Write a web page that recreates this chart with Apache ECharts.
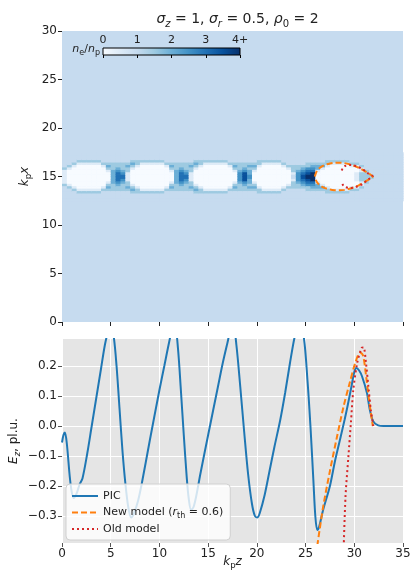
<!DOCTYPE html>
<html>
<head>
<meta charset="utf-8">
<script src="https://cdn.jsdelivr.net/npm/echarts@6/dist/echarts.min.js"></script>
<style>
html, body { margin: 0; padding: 0; background: #fff; }
#chart { width: 413px; height: 575px; }
</style>
</head>
<body>
<div id="chart"></div>
<script>
// n_e/n_p map: one string per k_p z column (0.5 wide, z = 0..35),
// each char is a |k_p x - 15| bin of 0.25 from the axis outward, value = digit / 2
var densityCols = [
	'1113222222', '0001322222', '0000132222', '0000013222', '0000013222',
	'0000013222', '0000013222', '0000013222', '0000132222', '0013432222',
	'4443332222', '6654332222', '6543332222', '1133432222', '0001343222',
	'0000133222', '0000013222', '0000013222', '0000013222', '0000013222',
	'0000013222', '0000132222', '0013432222', '4443332222', '6654332222',
	'6543332222', '1133432222', '0001343222', '0000133222', '0000013222',
	'0000013222', '0000013222', '0000013222', '0000013222', '0000132222',
	'0013432222', '5543332222', '7754332222', '5443432222', '0013432222',
	'0000133222', '0000013222', '0000013222', '0000013222', '0000013222',
	'0000132222', '0001322222', '2133322222', '5543322222', '7654322222',
	'8765332222', '8865432222', '0014432222', '0001432222', '0000133222',
	'0000013222', '0000013222', '0000013222', '0000013222', '0000132222',
	'1100132222', '3311322222', '3332222222', '3222222222', '2222222222',
	'2222222222', '2222222222', '2222222222', '2222222222', '2222222222'
];
var zStep = 0.5, xStep = 0.25, axisX = 15;

var picZ = [0.0, 0.15, 0.3, 0.5, 0.8, 1.0, 1.2, 1.5, 1.8, 2.1,
	2.6, 3.0, 3.5, 4.0, 4.4, 4.7, 5.0, 5.3,
	5.6, 5.9, 6.2, 6.5, 6.8, 7.1, 7.4, 7.8, 8.2,
	9.0, 10.0, 10.5, 11.0, 11.3, 11.6, 11.9,
	12.2, 12.5, 12.8, 13.0, 13.25, 13.5, 13.8, 14.2,
	15.0, 16.0, 16.5, 17.0, 17.3, 17.6, 17.9,
	18.3, 18.7, 19.1, 19.5, 19.8, 20.05,
	20.3, 20.8, 21.3, 21.8, 22.4, 22.9, 23.4, 23.9, 24.3, 24.8,
	25.2, 25.5, 25.8, 26.0, 26.2, 26.4, 26.8, 27.5, 28.0, 28.5,
	29.0, 29.3, 29.7, 30.0, 30.2, 30.5, 30.8, 31.3, 31.6, 31.95,
	32.45, 33.0, 35.0];
var picEz = [-0.055, -0.03, -0.022, -0.06, -0.17, -0.22, -0.24, -0.225, -0.195, -0.175,
	-0.09, -0.01, 0.09, 0.19, 0.27, 0.31, 0.33, 0.3,
	0.2, 0.06, -0.08, -0.19, -0.27, -0.305, -0.29, -0.25, -0.19,
	-0.05, 0.12, 0.2, 0.28, 0.32, 0.33, 0.26,
	0.12, -0.03, -0.17, -0.24, -0.28, -0.27, -0.23, -0.16,
	-0.03, 0.13, 0.21, 0.28, 0.32, 0.33, 0.27,
	0.13, -0.02, -0.16, -0.26, -0.3, -0.305,
	-0.29, -0.23, -0.15, -0.07, 0.02, 0.11, 0.21, 0.3, 0.34, 0.3,
	0.15, 0.0, -0.18, -0.3, -0.347, -0.335, -0.28, -0.2, -0.12, -0.05,
	0.02, 0.065, 0.13, 0.18, 0.193, 0.185, 0.165, 0.11, 0.053, 0.015,
	0.002, 0, 0];

var newZ = [26.2, 26.8, 27.5, 28.2, 28.9, 29.5, 30.1, 30.6, 30.9, 31.2, 31.5, 31.9];
var newEz = [-0.4, -0.27, -0.15, -0.04, 0.065, 0.14, 0.21, 0.245, 0.235, 0.17, 0.09, 0.0];
var oldZ = [28.9, 29.1, 29.4, 29.65, 29.9, 30.3, 30.75, 30.95, 31.2, 31.45, 31.7, 31.95];
var oldEz = [-0.42, -0.235, -0.1, 0.01, 0.12, 0.21, 0.26, 0.262, 0.21, 0.13, 0.053, 0.0];

// bubble boundaries in the density map (radius from the axis)
var newBubbleZ = [25.95, 26.1, 26.3, 26.6, 27.0, 27.5, 28.0, 28.5, 29.0, 29.5, 30.0, 30.5, 31.0, 31.5, 31.9];
var newBubbleR = [0, 0.45, 0.75, 1.0, 1.2, 1.35, 1.42, 1.43, 1.38, 1.27, 1.1, 0.88, 0.6, 0.3, 0];
var oldBubbleZ = [28.7, 28.85, 29.05, 29.5, 29.9, 30.35, 30.8, 31.1, 31.45, 31.9];
var oldBubbleR = [0.62, 0.9, 1.08, 1.18, 1.15, 1.0, 0.8, 0.57, 0.3, 0];

var eTicks = [-0.3, -0.2, -0.1, 0.0, 0.1, 0.2];
var cbarTicks = [0, 1, 2, 3, 4];
var blues = ['#f7fbff', '#deebf7', '#c6dbef', '#9ecae1', '#6baed6', '#4292c6', '#2171b5', '#08519c', '#08306b'];

var font = 'DejaVu Sans';
var ink = '#222';

function zip(xs, ys) {
	return xs.map(function (x, i) { return [x, ys[i]]; });
}

function bubble(zs, rs) {
	var upper = zs.map(function (z, i) { return [z, axisX + rs[i]]; });
	var lower = zs.map(function (z, i) { return [z, axisX - rs[i]]; }).reverse();
	if (rs[rs.length - 1] === 0) lower.shift();
	return upper.concat(lower);
}

var cells = [];
densityCols.forEach(function (col, j) {
	var z = zStep * j + zStep / 2;
	for (var k = 0; k < col.length; k++) {
		var v = Number(col[k]) / 2;
		var dx = xStep * k + xStep / 2;
		cells.push([z, axisX + dx, v]);
		cells.push([z, axisX - dx, v]);
	}
});

function mathRich(size, subSize, lh) {
	return {
		i: { fontFamily: font, fontStyle: 'italic', fontWeight: 'normal', fontSize: size, lineHeight: lh },
		si: { fontFamily: font, fontStyle: 'italic', fontWeight: 'normal', fontSize: subSize, lineHeight: lh * 0.6, verticalAlign: 'bottom' },
		s: { fontFamily: font, fontWeight: 'normal', fontSize: subSize, lineHeight: lh * 0.6, verticalAlign: 'bottom' },
		t: { fontFamily: font, fontWeight: 'normal', fontSize: size, lineHeight: lh }
	};
}

var chart = echarts.init(document.getElementById('chart'));

var option = {
	animation: false,
	title: {
		text: '{i|σ}{si|z}{t| = 1, }{i|σ}{si|r}{t| = 0.5, }{i|ρ}{s|0}{t| = 2}',
		left: 232.5,
		top: 4,
		textAlign: 'center',
		textStyle: { color: ink, fontWeight: 'normal', rich: mathRich(14, 10, 20) }
	},
	graphic: [{
		type: 'text',
		right: 413 - 100,
		top: 44,
		style: {
			text: '{i|n}{s|e}{t|/}{i|n}{s|p}',
			fill: ink,
			rich: mathRich(11, 8, 14)
		}
	}],
	grid: [
		{ left: 62, width: 341, top: 31, height: 291, show: true, backgroundColor: blues[2], borderWidth: 0, outerBoundsMode: 'none' },
		{ left: 62, width: 341, top: 339, height: 204, show: true, backgroundColor: '#e5e5e5', borderWidth: 0, outerBoundsMode: 'none' },
		{ left: 103, width: 137, top: 48, height: 7, outerBoundsMode: 'none' }
	],
	xAxis: [
		{
			gridIndex: 0, type: 'value', min: 0, max: 35, interval: 5,
			axisLine: { show: false, onZero: false },
			axisTick: { show: true, length: 4, lineStyle: { color: ink } },
			axisLabel: { show: false },
			splitLine: { show: false }
		},
		{
			gridIndex: 1, type: 'value', min: 0, max: 35, interval: 5,
			axisLine: { show: false, onZero: false },
			axisTick: { show: true, length: 4, lineStyle: { color: '#555' } },
			axisLabel: { fontFamily: font, fontSize: 12, color: ink, margin: 5 },
			splitLine: { show: true, lineStyle: { color: '#fff', width: 1 } },
			name: '{i|k}{s|p}{i|z}',
			nameLocation: 'middle',
			nameGap: 11,
			nameMoveOverlap: false,
			nameTextStyle: { color: ink, rich: mathRich(12, 8.5, 16) }
		},
		{
			gridIndex: 2, type: 'value', min: 0, max: 4, interval: 1, position: 'top',
			axisLine: { show: false },
			axisTick: { show: true, inside: true, length: 3, lineStyle: { color: '#000' } },
			axisLabel: {
				fontFamily: font, fontSize: 11, color: ink, margin: 2,
				formatter: function (v) { return v === cbarTicks[cbarTicks.length - 1] ? v + '+' : String(v); }
			},
			splitLine: { show: false }
		}
	],
	yAxis: [
		{
			gridIndex: 0, type: 'value', min: 0, max: 30, interval: 5,
			axisLine: { show: false, onZero: false },
			axisTick: { show: true, length: 4, lineStyle: { color: ink } },
			axisLabel: { fontFamily: font, fontSize: 12, color: ink, margin: 5 },
			splitLine: { show: false },
			name: '{i|k}{s|p}{i|x}',
			nameLocation: 'middle',
			nameRotate: 90,
			nameGap: 29,
			nameMoveOverlap: false,
			nameTextStyle: { color: ink, rich: mathRich(12, 8.5, 16) }
		},
		{
			gridIndex: 1, type: 'value', min: -0.39, max: 0.29,
			axisLine: { show: false, onZero: false },
			axisTick: { show: true, length: 4, lineStyle: { color: '#555' }, customValues: eTicks },
			axisLabel: {
				fontFamily: font, fontSize: 12, color: ink, margin: 5, customValues: eTicks,
				formatter: function (v) { return (v < 0 ? '\u2212' : '') + Math.abs(v).toFixed(1); }
			},
			splitLine: { show: true, lineStyle: { color: '#fff', width: 1 } },
			name: '{i|E}{si|z}{t|, pl.u.}',
			nameLocation: 'middle',
			nameRotate: 90,
			nameGap: 40,
			nameMoveOverlap: false,
			nameTextStyle: { color: ink, rich: mathRich(12, 8.5, 16) }
		},
		{ gridIndex: 2, type: 'value', min: 0, max: 1, show: false }
	],
	visualMap: {
		type: 'continuous', show: false, seriesIndex: 0, dimension: 2,
		min: cbarTicks[0], max: cbarTicks[cbarTicks.length - 1],
		inRange: { color: blues }
	},
	legend: {
		data: ['PIC', 'New model', 'Old model'],
		orient: 'vertical',
		left: 66,
		top: 484,
		padding: [5, 7, 4, 5],
		itemWidth: 26,
		itemHeight: 12,
		itemGap: 2.5,
		itemStyle: { opacity: 0 },
		backgroundColor: 'rgba(255,255,255,0.8)',
		borderColor: '#d0d0d0',
		borderWidth: 1,
		borderRadius: 4,
		textStyle: {
			fontFamily: font, fontSize: 11, color: ink, lineHeight: 14,
			rich: {
				i: { fontFamily: font, fontStyle: 'italic', fontSize: 11, lineHeight: 14 },
				s: { fontFamily: font, fontSize: 8, lineHeight: 9, verticalAlign: 'bottom' }
			}
		},
		formatter: function (name) {
			return name === 'New model' ? 'New model ({i|r}{s|th} = 0.6)' : name;
		}
	},
	series: [
		{
			type: 'custom',
			xAxisIndex: 0, yAxisIndex: 0,
			data: cells,
			encode: { x: 0, y: 1 },
			silent: true,
			renderItem: function (params, api) {
				var z = api.value(0), x = api.value(1);
				var p0 = api.coord([z - zStep / 2, x + xStep / 2]);
				var p1 = api.coord([z + zStep / 2, x - xStep / 2]);
				return {
					type: 'rect',
					shape: { x: p0[0], y: p0[1], width: p1[0] - p0[0] + 0.6, height: p1[1] - p0[1] + 0.6 },
					style: { fill: api.visual('color') }
				};
			}
		},
		{
			type: 'line', xAxisIndex: 0, yAxisIndex: 0,
			data: bubble(newBubbleZ, newBubbleR),
			symbol: 'none', smooth: 0.3,
			lineStyle: { color: '#ff7f0e', width: 2, type: [6, 3] }
		},
		{
			type: 'line', xAxisIndex: 0, yAxisIndex: 0,
			data: bubble(oldBubbleZ, oldBubbleR),
			symbol: 'none', smooth: 0.3,
			lineStyle: { color: '#d62728', width: 2, type: [2, 3] }
		},
		{
			type: 'custom',
			xAxisIndex: 2, yAxisIndex: 2,
			data: [[cbarTicks[0], 0]],
			silent: true,
			renderItem: function (params, api) {
				var p0 = api.coord([cbarTicks[0], 1]);
				var p1 = api.coord([cbarTicks[cbarTicks.length - 1], 0]);
				var stops = blues.map(function (c, i) { return { offset: i / (blues.length - 1), color: c }; });
				return {
					type: 'rect',
					shape: { x: p0[0], y: p0[1], width: p1[0] - p0[0], height: p1[1] - p0[1] },
					style: { fill: new echarts.graphic.LinearGradient(0, 0, 1, 0, stops), stroke: '#000', lineWidth: 1 }
				};
			}
		},
		{
			name: 'PIC', type: 'line', xAxisIndex: 1, yAxisIndex: 1,
			data: zip(picZ, picEz),
			symbol: 'none', smooth: 0.3,
			itemStyle: { color: '#1f77b4' },
			lineStyle: { color: '#1f77b4', width: 2 }
		},
		{
			name: 'New model', type: 'line', xAxisIndex: 1, yAxisIndex: 1,
			data: zip(newZ, newEz),
			symbol: 'none', smooth: 0.3,
			itemStyle: { color: '#ff7f0e' },
			lineStyle: { color: '#ff7f0e', width: 2, type: [6, 3] }
		},
		{
			name: 'Old model', type: 'line', xAxisIndex: 1, yAxisIndex: 1,
			data: zip(oldZ, oldEz),
			symbol: 'none', smooth: 0.3,
			itemStyle: { color: '#d62728' },
			lineStyle: { color: '#d62728', width: 2, type: [2, 3] }
		}
	]
};

chart.setOption(option);
</script>
</body>
</html>
